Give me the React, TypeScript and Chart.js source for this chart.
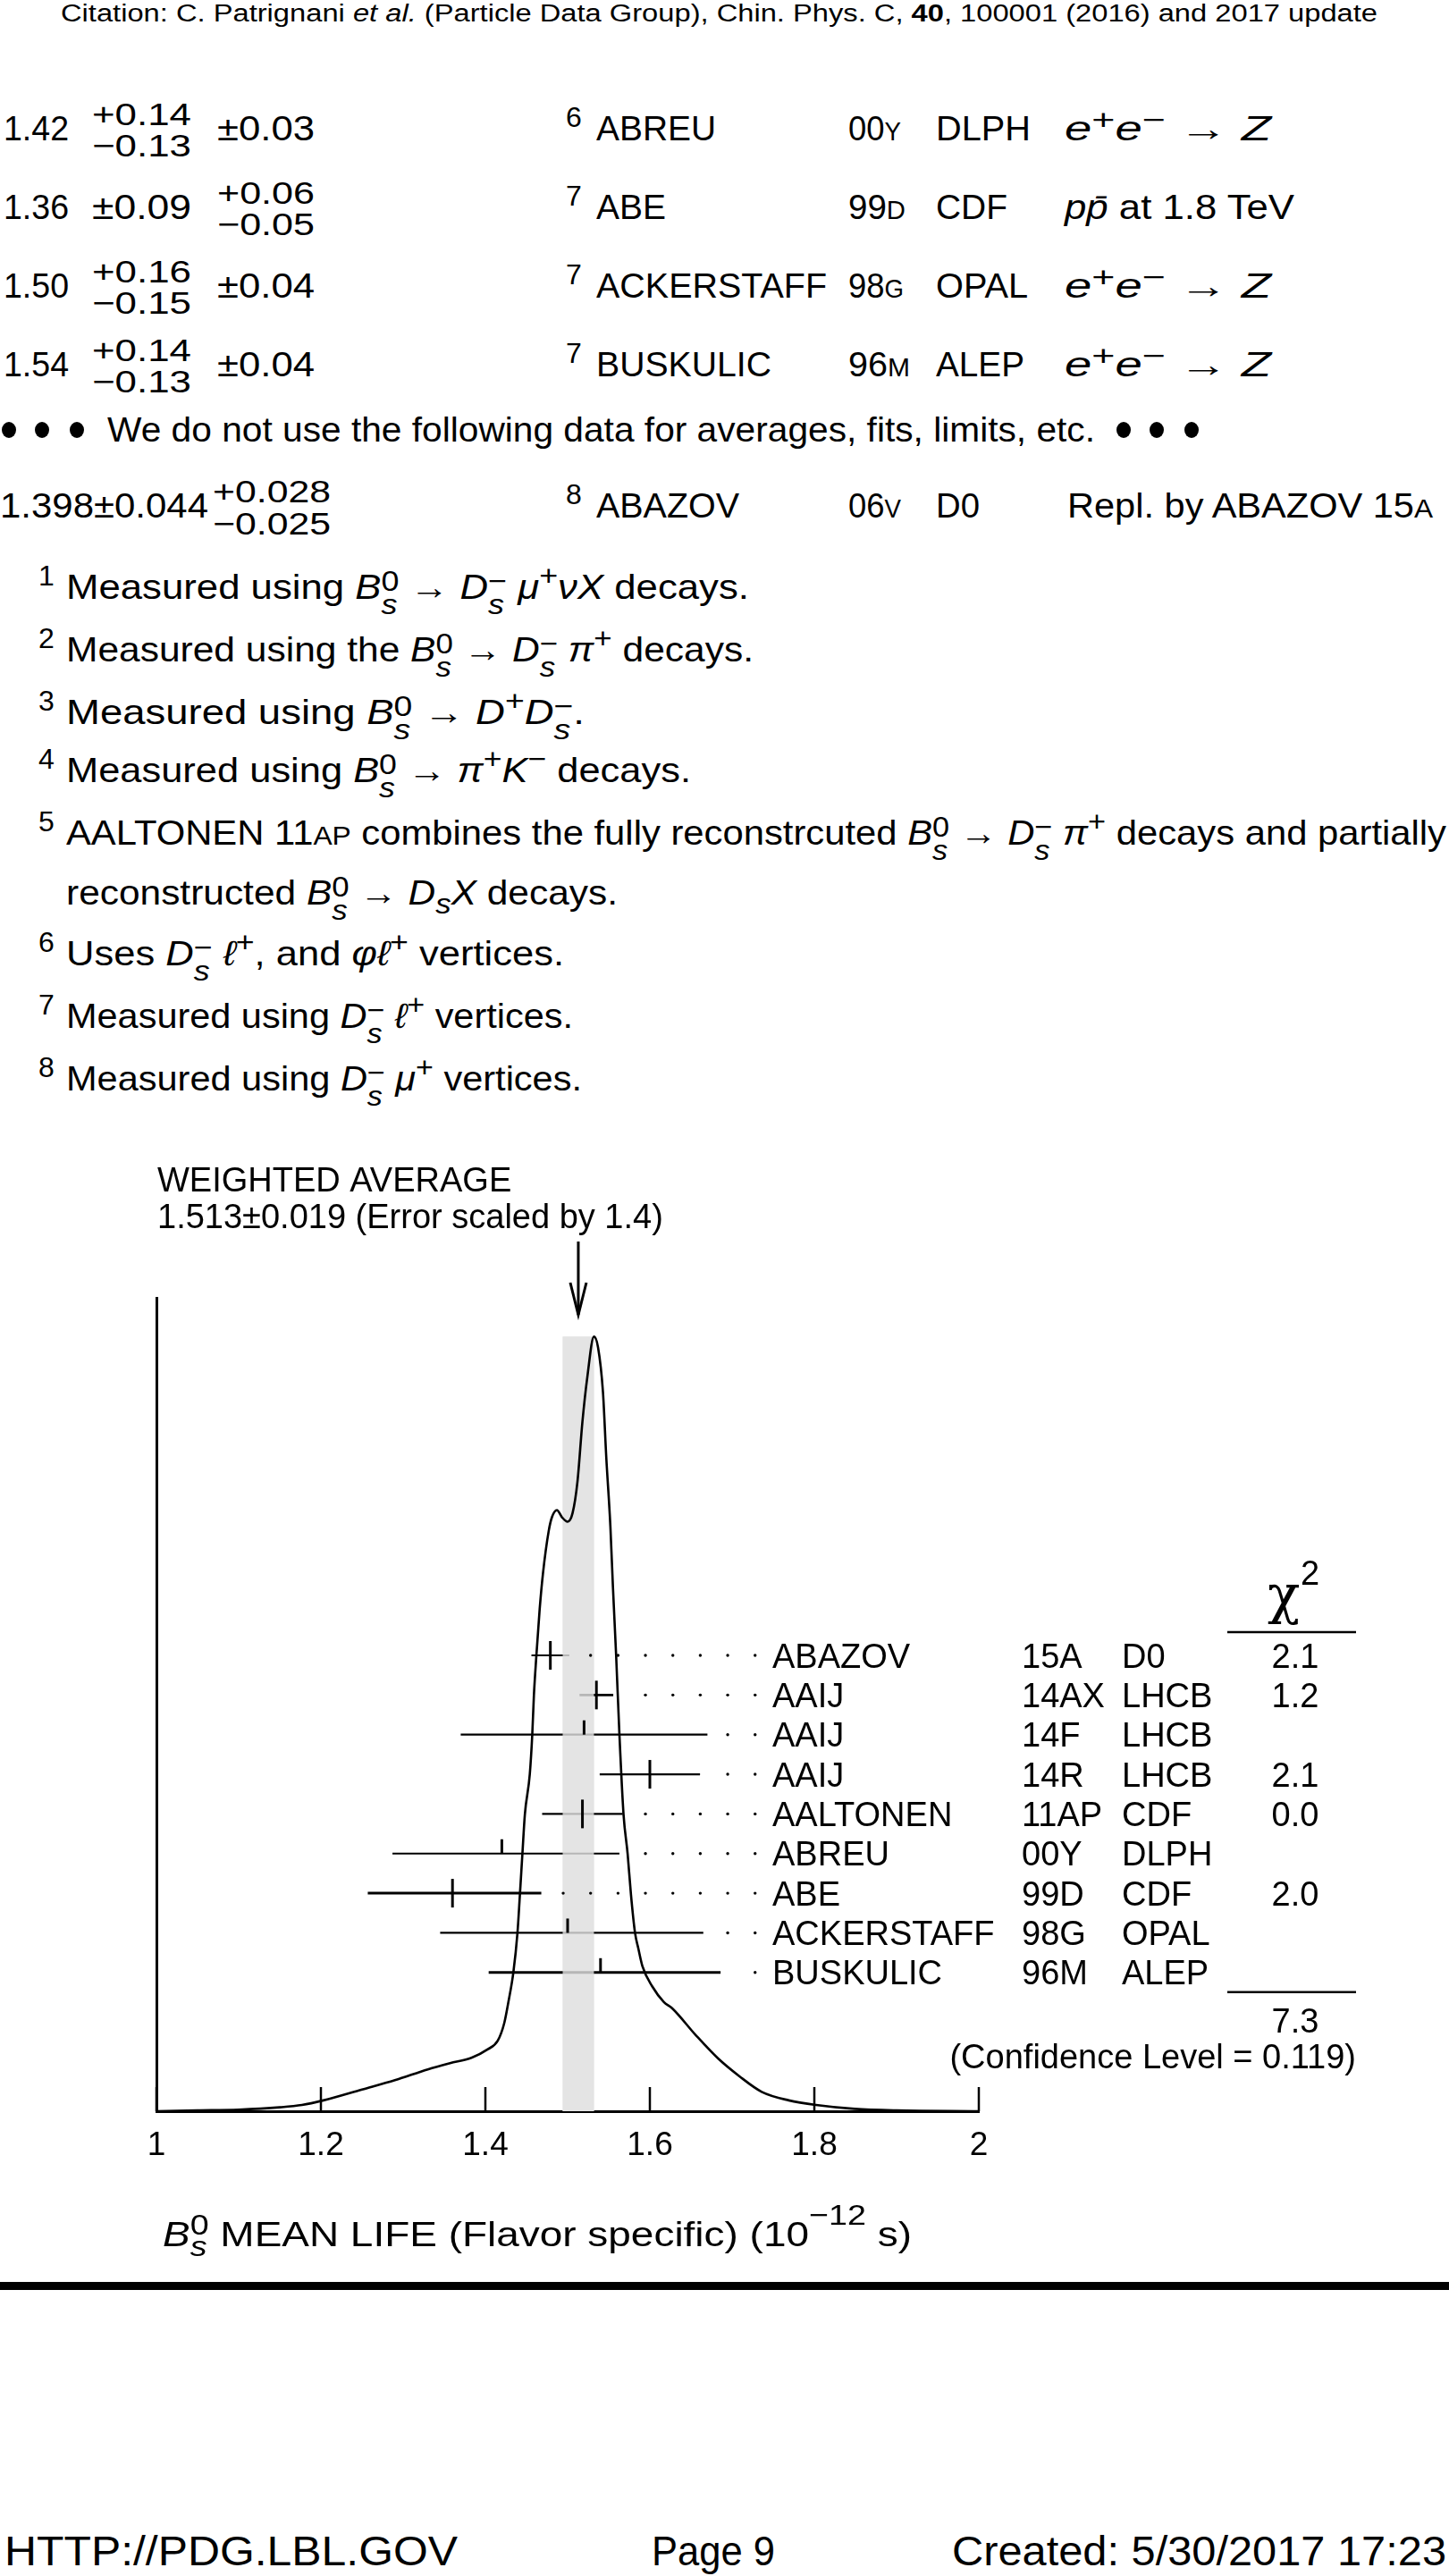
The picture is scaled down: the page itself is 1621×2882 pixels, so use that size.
import React, { useEffect, useRef } from 'react';
import { Chart, registerables } from 'chart.js';

Chart.register(...registerables);

// ---------------- data ----------------
const MEAS_NAMES = ['ABAZOV', 'AAIJ', 'AAIJ', 'AAIJ', 'AALTONEN', 'ABREU', 'ABE', 'ACKERSTAFF', 'BUSKULIC'];
const MEAS_YEARS = ['15A', '14AX', '14F', '14R', '11AP', '00Y', '99D', '98G', '96M'];
const MEAS_EXPTS = ['D0', 'LHCB', 'LHCB', 'LHCB', 'CDF', 'DLPH', 'CDF', 'OPAL', 'ALEP'];
const MEAS_VALUES = [1.479, 1.535, 1.52, 1.6, 1.518, 1.42, 1.36, 1.5, 1.54];
const MEAS_ERR_MINUS = [0.023, 0.0205, 0.15, 0.061, 0.049, 0.133, 0.103, 0.155, 0.136];
const MEAS_ERR_PLUS = [0.023, 0.0205, 0.15, 0.061, 0.049, 0.143, 0.108, 0.165, 0.146];
const MEAS_CHI2 = ['2.1', '1.2', '', '2.1', '0.0', '', '2.0', '', ''];
const WA_VALUE = 1.513;
const WA_ERROR = 0.019;
const WA_SCALE = '1.4';
const CHI2_TOTAL = '7.3';
const CONF_LEVEL = '0.119';
const X_TICKS = [1, 1.2, 1.4, 1.6, 1.8, 2];
const CURVE_X = [1.0, 1.05, 1.1, 1.15, 1.177, 1.203, 1.25, 1.29, 1.33, 1.357, 1.383, 1.403, 1.415, 1.423, 1.428, 1.434, 1.439, 1.442, 1.445, 1.448, 1.454, 1.457, 1.459, 1.462, 1.466, 1.47, 1.477, 1.481, 1.487, 1.493, 1.5, 1.506, 1.512, 1.518, 1.524, 1.532, 1.537, 1.543, 1.547, 1.552, 1.555, 1.559, 1.563, 1.568, 1.573, 1.577, 1.582, 1.586, 1.591, 1.603, 1.617, 1.627, 1.656, 1.683, 1.709, 1.736, 1.769, 1.802, 1.849, 1.9, 2.0];
const CURVE_Y = [0.0, 0.001, 0.002, 0.005, 0.008, 0.014, 0.028, 0.04, 0.054, 0.062, 0.069, 0.08, 0.091, 0.114, 0.141, 0.179, 0.23, 0.28, 0.332, 0.383, 0.435, 0.486, 0.537, 0.588, 0.648, 0.694, 0.749, 0.767, 0.776, 0.767, 0.761, 0.772, 0.813, 0.89, 0.948, 1.0, 0.986, 0.928, 0.844, 0.755, 0.679, 0.588, 0.486, 0.383, 0.332, 0.28, 0.23, 0.21, 0.187, 0.161, 0.141, 0.133, 0.098, 0.068, 0.045, 0.025, 0.014, 0.008, 0.003, 0.001, 0.0];

// ---------------- styles ----------------
const FONT = '"Liberation Sans", Arial, Helvetica, sans-serif';
const BAR_LINE_WIDTH = [2.2, 2.6, 2.2, 2.2, 2.2, 2.2, 3, 2.2, 3];
const BAND_COLOR = '#e4e4e4';
const DOT_START = 1.4946;
const DOT_STEP = 0.03334;
const DOT_LAST = 1.73;

function drawBand(chart: any, alpha: number) {
  const { ctx, scales } = chart;
  const x = scales.x;
  const y = scales.y;
  const top = Math.max(...CURVE_Y);
  const l = x.getPixelForValue(WA_VALUE - WA_ERROR);
  const r = x.getPixelForValue(WA_VALUE + WA_ERROR);
  const t = y.getPixelForValue(top);
  const b = y.getPixelForValue(0);
  ctx.save();
  ctx.globalAlpha = alpha;
  ctx.fillStyle = BAND_COLOR;
  ctx.fillRect(l, t, r - l, b - t);
  ctx.restore();
}

const ideogramPlugin = {
  id: 'ideogram',
  beforeDatasetsDraw(chart: any) {
    drawBand(chart, 1);
  },
  beforeDatasetDraw(chart: any, args: any) {
    if (args.index === 0) drawBand(chart, 0.8);
  },
  afterDatasetsDraw(chart: any) {
    const { ctx, chartArea, scales } = chart;
    const x = scales.x;
    const yr = scales.yr;
    const right = x.getPixelForValue(2);
    const colName = right - 231;
    const colYear = right + 48;
    const colExpt = right + 160;
    const colChi = right + 354;
    ctx.save();
    ctx.strokeStyle = '#000';
    ctx.fillStyle = '#000';

    // x tick marks (inward)
    ctx.lineWidth = 2.5;
    X_TICKS.forEach((v) => {
      const px = x.getPixelForValue(v);
      ctx.beginPath();
      ctx.moveTo(px, chartArea.bottom);
      ctx.lineTo(px, chartArea.bottom - 27);
      ctx.stroke();
    });

    ctx.font = `38px ${FONT}`;
    ctx.textBaseline = 'alphabetic';
    MEAS_VALUES.forEach((v, i) => {
      const px = x.getPixelForValue(v);
      const py = yr.getPixelForValue(i);
      // central value mark
      ctx.lineWidth = 3;
      ctx.beginPath();
      if (MEAS_CHI2[i] !== '') {
        ctx.moveTo(px, py - 16);
        ctx.lineTo(px, py + 16);
      } else {
        ctx.moveTo(px, py - 16);
        ctx.lineTo(px, py);
      }
      ctx.stroke();
      // leader dots
      const end = x.getPixelForValue(v + MEAS_ERR_PLUS[i]);
      for (let k = -10; DOT_START + k * DOT_STEP <= DOT_LAST; k++) {
        const dp = x.getPixelForValue(DOT_START + k * DOT_STEP);
        if (dp > end + 10) {
          ctx.beginPath();
          ctx.arc(dp, py, 1.7, 0, Math.PI * 2);
          ctx.fill();
        }
      }
      // labels
      const base = py + 13.5;
      ctx.textAlign = 'left';
      ctx.fillText(MEAS_NAMES[i], colName, base);
      ctx.fillText(MEAS_YEARS[i], colYear, base);
      ctx.fillText(MEAS_EXPTS[i], colExpt, base);
      if (MEAS_CHI2[i]) {
        ctx.textAlign = 'center';
        ctx.fillText(MEAS_CHI2[i], colChi, base);
      }
    });

    // chi2 header and totals
    const row0 = yr.getPixelForValue(0);
    const rowN = yr.getPixelForValue(MEAS_VALUES.length - 1);
    ctx.textAlign = 'left';
    ctx.font = `60px "DejaVu Serif", "Liberation Serif", serif`;
    ctx.fillText('χ', colChi - 31, row0 - 47);
    ctx.font = `38px ${FONT}`;
    ctx.fillText('2', colChi + 6, row0 - 79);
    ctx.lineWidth = 2.5;
    ctx.beginPath();
    ctx.moveTo(colChi - 76, row0 - 26);
    ctx.lineTo(colChi + 68, row0 - 26);
    ctx.moveTo(colChi - 76, rowN + 22);
    ctx.lineTo(colChi + 68, rowN + 22);
    ctx.stroke();
    ctx.font = `38px ${FONT}`;
    ctx.textAlign = 'center';
    ctx.fillText(CHI2_TOTAL, colChi, rowN + 67);
    ctx.textAlign = 'right';
    ctx.fillText(`(Confidence Level = ${CONF_LEVEL})`, colChi + 68, rowN + 107);

    // weighted average header and arrow
    ctx.textAlign = 'left';
    ctx.fillText('WEIGHTED AVERAGE', chartArea.left + 1, chartArea.top - 119);
    ctx.fillText(`${WA_VALUE}±${WA_ERROR.toFixed(3)} (Error scaled by ${WA_SCALE})`, chartArea.left + 1, chartArea.top - 78);
    const ax = x.getPixelForValue(WA_VALUE);
    ctx.lineWidth = 3;
    ctx.beginPath();
    ctx.moveTo(ax, chartArea.top - 63);
    ctx.lineTo(ax, chartArea.top + 19);
    ctx.stroke();
    ctx.beginPath();
    ctx.moveTo(ax - 9, chartArea.top - 17);
    ctx.lineTo(ax, chartArea.top + 19);
    ctx.lineTo(ax + 9, chartArea.top - 17);
    ctx.stroke();
    ctx.restore();
  },
};

function IdeogramChart() {
  const ref = useRef<HTMLCanvasElement>(null);
  useEffect(() => {
    if (!ref.current) return;
    const datasets: any[] = [
      {
        data: CURVE_X.map((xv, i) => ({ x: xv, y: CURVE_Y[i] })),
        yAxisID: 'y',
        showLine: true,
        borderColor: '#000',
        borderWidth: 2.6,
        pointRadius: 0,
        cubicInterpolationMode: 'monotone',
        order: 0,
      },
      ...MEAS_VALUES.map((v, i) => ({
        data: [
          { x: v - MEAS_ERR_MINUS[i], y: i },
          { x: v + MEAS_ERR_PLUS[i], y: i },
        ],
        yAxisID: 'yr',
        showLine: true,
        borderColor: '#000',
        borderWidth: BAR_LINE_WIDTH[i],
        borderCapStyle: 'butt',
        pointRadius: 0,
        order: 1,
      })),
    ];
    const chart = new Chart(ref.current, {
      type: 'scatter',
      data: { datasets },
      plugins: [ideogramPlugin],
      options: {
        animation: false,
        responsive: false,
        devicePixelRatio: 1,
        events: [],
        layout: { padding: { left: 155, right: 526, top: 172, bottom: 88 } },
        plugins: { legend: { display: false }, tooltip: { enabled: false } },
        scales: {
          x: {
            type: 'linear',
            min: 1,
            max: 2,
            z: 1,
            afterBuildTicks: (s: any) => {
              s.ticks = X_TICKS.map((value) => ({ value }));
            },
            afterFit: (s: any) => {
              s.height = 90;
            },
            grid: { display: false, drawTicks: false },
            border: { display: true, color: '#000', width: 3 },
            ticks: {
              autoSkip: false,
              maxRotation: 0,
              padding: 17,
              color: '#000',
              font: { family: FONT, size: 37 },
              callback: (v: any) => String(v),
            },
          },
          y: {
            type: 'linear',
            min: 0,
            max: 1.05,
            z: 1,
            afterFit: (s: any) => {
              s.width = 20;
            },
            grid: { display: false, drawTicks: false },
            border: { display: true, color: '#000', width: 3 },
            ticks: { display: false },
          },
          yr: {
            type: 'linear',
            display: false,
            reverse: true,
            min: -9.02,
            max: 11.5,
          },
        },
      } as any,
    });
    return () => chart.destroy();
  }, []);
  return (
    <canvas ref={ref} width={1621} height={1260} style={{ position: 'absolute', left: 0, top: 1280, width: 1621, height: 1260 }} />
  );
}

// ---------------- page text helpers ----------------
const BODY = 39;

function T({ x, b, s = BODY, w, children }: any) {
  const L = 3 * s;
  return (
    <div
      data-w={w}
      style={{
        position: 'absolute',
        left: x,
        top: b - L / 2 - 0.3465 * s,
        fontSize: s,
        lineHeight: `${L}px`,
        height: L,
        whiteSpace: 'nowrap',
        width: 'max-content',
        transformOrigin: '0 0',
      }}
    >
      {children}
    </div>
  );
}
const I = ({ children }: any) => <span style={{ fontStyle: 'italic' }}>{children}</span>;
const SC = ({ children }: any) => <span style={{ fontSize: '0.76em' }}>{children}</span>;
const Up = ({ children, up = 15, fs = 32 }: any) => (
  <span style={{ position: 'relative', top: -up, fontSize: fs }}>{children}</span>
);
const Dn = ({ children, dn = 15, fs = 32 }: any) => (
  <span style={{ position: 'relative', top: dn, fontSize: fs }}>{children}</span>
);
const Stk = ({ sup, sub, up = 9, dn = 17, fs = 32 }: any) => (
  <span style={{ display: 'inline-block', verticalAlign: `${-dn}px`, lineHeight: `${up + dn}px`, fontSize: fs }}>
    <span style={{ display: 'block' }}>{sup}</span>
    <span style={{ display: 'block' }}>{sub}</span>
  </span>
);
const Bs = () => (
  <>
    <I>B</I>
    <Stk sup="0" sub={<I>s</I>} />
  </>
);
const Ds = () => (
  <>
    <I>D</I>
    <Stk sup="−" sub={<I>s</I>} />
  </>
);
const EE = () => (
  <>
    <I>e</I>
    <Up up={12}>+</Up>
    <I>e</I>
    <Up up={12}>−</Up> → <I>Z</I>
  </>
);
const Bullet = ({ cx, cy }: any) => (
  <div
    aria-hidden="true"
    style={{ position: 'absolute', left: cx - 8, top: cy - 9, width: 16, height: 18, borderRadius: '50%', background: '#000' }}
  />
);

function fitTexts() {
  document.querySelectorAll<HTMLElement>('[data-w]').forEach((el) => {
    const target = Number(el.dataset.w);
    if (!target) return;
    el.style.transform = 'none';
    const nat = el.getBoundingClientRect().width;
    if (nat > 0) el.style.transform = `scaleX(${target / nat})`;
  });
}

function DataRow({ b, v, c2, c3, fn, name, nameW, yr, yrSc, yrW, ex, exW, proc, procW }: any) {
  return (
    <>
      <T x={4} b={b} w={73}>{v}</T>
      {c2}
      {c3}
      <T x={633} b={b - 15} s={32}>{fn}</T>
      <T x={667} b={b} w={nameW}>{name}</T>
      <T x={949} b={b} w={yrW}>
        {yr}
        <SC>{yrSc}</SC>
      </T>
      <T x={1047} b={b} w={exW}>{ex}</T>
      <T x={1191} b={b} w={procW}>{proc}</T>
    </>
  );
}

const PM = ({ x, b, p, m, w }: any) => (
  <>
    <T x={x} b={b - 17} s={35} w={w}>{p}</T>
    <T x={x} b={b + 18} s={35} w={w}>{m}</T>
  </>
);

export default function App() {
  useEffect(() => {
    fitTexts();
    const f: any = (document as any).fonts;
    if (f && f.ready) f.ready.then(fitTexts);
    const t = setTimeout(fitTexts, 50);
    return () => clearTimeout(t);
  }, []);

  return (
    <div
      style={{
        position: 'absolute',
        left: 0,
        top: 0,
        width: 1621,
        height: 2882,
        overflow: 'hidden',
        background: '#fff',
        color: '#000',
        fontFamily: FONT,
      }}
    >
      <T x={68} b={25} s={27} w={1473}>
        Citation: C. Patrignani <I>et al.</I> (Particle Data Group), Chin. Phys. C, <b>40</b>, 100001 (2016) and 2017 update
      </T>

      <DataRow b={157} v="1.42" fn="6" name="ABREU" nameW={134} yr="00" yrSc="Y" yrW={59} ex="DLPH" exW={106} proc={<EE />} procW={231}
        c2={<PM x={103} b={157} p="+0.14" m="−0.13" w={111} />}
        c3={<T x={243} b={157} w={109}>±0.03</T>} />
      <DataRow b={245} v="1.36" fn="7" name="ABE" nameW={78} yr="99" yrSc="D" yrW={64} ex="CDF" exW={80}
        proc={<><I>p</I><I>p&#772;</I> at 1.8 TeV</>} procW={257}
        c2={<T x={103} b={245} w={111}>±0.09</T>}
        c3={<PM x={243} b={245} p="+0.06" m="−0.05" w={109} />} />
      <DataRow b={333} v="1.50" fn="7" name="ACKERSTAFF" nameW={258} yr="98" yrSc="G" yrW={62} ex="OPAL" exW={103} proc={<EE />} procW={231}
        c2={<PM x={103} b={333} p="+0.16" m="−0.15" w={111} />}
        c3={<T x={243} b={333} w={109}>±0.04</T>} />
      <DataRow b={421} v="1.54" fn="7" name="BUSKULIC" nameW={196} yr="96" yrSc="M" yrW={69} ex="ALEP" exW={99} proc={<EE />} procW={231}
        c2={<PM x={103} b={421} p="+0.14" m="−0.13" w={111} />}
        c3={<T x={243} b={421} w={109}>±0.04</T>} />

      <Bullet cx={10} cy={481} />
      <Bullet cx={47} cy={481} />
      <Bullet cx={86} cy={481} />
      <T x={120} b={494} w={1105}>We do not use the following data for averages, fits, limits, etc.</T>
      <Bullet cx={1257} cy={481} />
      <Bullet cx={1294} cy={481} />
      <Bullet cx={1333} cy={481} />

      <T x={0} b={579} w={233}>1.398±0.044</T>
      <T x={238} b={562} s={35} w={132}>+0.028</T>
      <T x={238} b={598} s={35} w={132}>−0.025</T>
      <T x={633} b={564} s={32}>8</T>
      <T x={667} b={579} w={160}>ABAZOV</T>
      <T x={949} b={579} w={59}>06<SC>V</SC></T>
      <T x={1047} b={579} w={49}>D0</T>
      <T x={1194} b={579} w={409}>Repl. by ABAZOV 15<SC>A</SC></T>

      <T x={43} b={655} s={32}>1</T>
      <T x={74} b={670} w={764}>
        Measured using <Bs /> → <Ds /> <I>μ</I><Up>+</Up><I>ν</I><I>X</I> decays.
      </T>
      <T x={43} b={725} s={32}>2</T>
      <T x={74} b={740} w={769}>
        Measured using the <Bs /> → <Ds /> <I>π</I><Up>+</Up> decays.
      </T>
      <T x={43} b={795} s={32}>3</T>
      <T x={74} b={810} w={580}>
        Measured using <Bs /> → <I>D</I><Up>+</Up><Ds />.
      </T>
      <T x={43} b={860} s={32}>4</T>
      <T x={74} b={875} w={699}>
        Measured using <Bs /> → <I>π</I><Up>+</Up><I>K</I><Up>−</Up> decays.
      </T>
      <T x={43} b={930} s={32}>5</T>
      <T x={74} b={945} w={1544}>
        AALTONEN 11<SC>AP</SC> combines the fully reconstrcuted <Bs /> → <Ds /> <I>π</I><Up>+</Up> decays and partially
      </T>
      <T x={74} b={1012} w={617}>
        reconstructed <Bs /> → <I>D</I><Dn dn={10}><I>s</I></Dn><I>X</I> decays.
      </T>
      <T x={43} b={1065} s={32}>6</T>
      <T x={74} b={1080} w={557}>
        Uses <Ds /> <I>ℓ</I><Up>+</Up>, and <I>φℓ</I><Up>+</Up> vertices.
      </T>
      <T x={43} b={1135} s={32}>7</T>
      <T x={74} b={1150} w={567}>
        Measured using <Ds /> <I>ℓ</I><Up>+</Up> vertices.
      </T>
      <T x={43} b={1205} s={32}>8</T>
      <T x={74} b={1220} w={577}>
        Measured using <Ds /> <I>μ</I><Up>+</Up> vertices.
      </T>

      <IdeogramChart />

      <T x={182} b={2513} w={838}>
        <I>B</I>
        <Stk sup="0" sub={<I>s</I>} up={13} dn={11} /> MEAN LIFE (Flavor specific) (10<Up up={24}>−12</Up> s)
      </T>

      <div style={{ position: 'absolute', left: 0, top: 2553, width: 1621, height: 9, background: '#000' }} />

      <T x={5} b={2870} s={46} w={507}>HTTP://PDG.LBL.GOV</T>
      <T x={729} b={2870} s={46} w={138}>Page 9</T>
      <T x={1065} b={2870} s={46} w={553}>Created: 5/30/2017 17:23</T>
    </div>
  );
}
